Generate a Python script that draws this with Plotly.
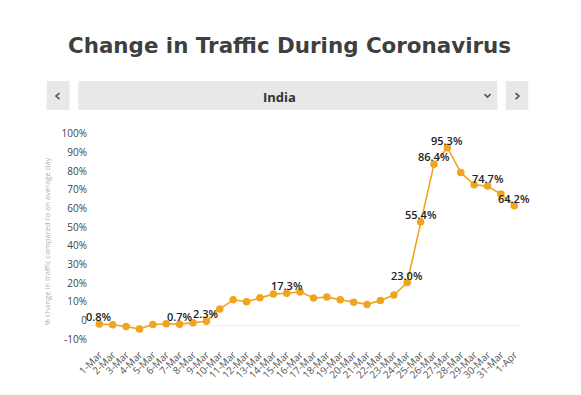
import plotly.graph_objects as go

# ---- data ----
dates = ["1-Mar", "2-Mar", "3-Mar", "4-Mar", "5-Mar", "6-Mar", "7-Mar", "8-Mar", "9-Mar",
         "10-Mar", "11-Mar", "12-Mar", "13-Mar", "14-Mar", "15-Mar", "16-Mar", "17-Mar",
         "18-Mar", "19-Mar", "20-Mar", "21-Mar", "22-Mar", "23-Mar", "24-Mar", "25-Mar",
         "26-Mar", "27-Mar", "28-Mar", "29-Mar", "30-Mar", "31-Mar", "1-Apr"]
change_pct = [0.8, 0.4, -0.6, -1.9, 0.5, 0.9, 0.7, 1.5, 2.3,
              8.8, 13.8, 12.7, 14.8, 16.8, 17.3, 18.0, 14.7,
              15.2, 13.8, 12.5, 11.3, 13.4, 16.3, 23.0, 55.4,
              86.4, 95.3, 82.0, 75.4, 74.7, 70.4, 64.2]
labeled_dates = ["1-Mar", "7-Mar", "9-Mar", "15-Mar", "24-Mar", "25-Mar",
                 "26-Mar", "27-Mar", "30-Mar", "1-Apr"]
y_tick_vals = [-10, 0, 10, 20, 30, 40, 50, 60, 70, 80, 90, 100]
y_tick_text = ["-10%", "0", "10%", "20%", "30%", "40%", "50%", "60%", "70%", "80%", "90%", "100%"]

title_text = "Change in Traffic During Coronavirus"
country = "India"
y_title = "% change in traffic compared to an average day"

# ---- layout geometry (screen pixels; page body has an 8px margin) ----
OFF = 8
W, H = 581 - OFF, 395 - OFF
L, R = 88, 522          # plot area left/right on screen
T, B = 136.6, 346.4     # plot area top/bottom on screen
pw, ph = R - L, B - T


def px(x):
    return (x - L) / pw


def py(y):
    return (B - y) / ph


ORANGE = "#F0A41F"

fig = go.Figure()
fig.add_trace(go.Scatter(
    x=dates, y=change_pct, mode="lines+markers",
    line=dict(color=ORANGE, width=1.6),
    marker=dict(color=ORANGE, size=7.5),
    cliponaxis=False, hoverinfo="x+y", showlegend=False,
))

annotations = []
for d, v in zip(dates, change_pct):
    if d in labeled_dates:
        annotations.append(dict(
            x=d, y=v, xref="x", yref="y", text=f"{v:.1f}%", showarrow=False,
            xanchor="center", yanchor="middle", yshift=7.5,
            font=dict(family="Open Sans", size=11, color="#222", weight=600)))

shapes = []
btn_color = "#E8E8E8"
for x0, x1 in [(46.7, 69.5), (78.3, 497.3), (505.7, 528.3)]:
    shapes.append(dict(type="rect", xref="paper", yref="paper",
                       x0=px(x0), x1=px(x1), y0=py(109.5), y1=py(80.5),
                       fillcolor=btn_color, line=dict(width=0), layer="below"))


def chevron(points):
    p = "M " + " L ".join(f"{px(a):.5f},{py(b):.5f}" for a, b in points)
    return dict(type="path", xref="paper", yref="paper", path=p,
                line=dict(color="#555", width=1.6))


shapes.append(chevron([(59.5, 92.5), (56, 95.5), (59.5, 98.5)]))
shapes.append(chevron([(515.5, 92.5), (519, 95.5), (515.5, 98.5)]))
shapes.append(chevron([(484.5, 93.5), (487.5, 96.5), (490.5, 93.5)]))

annotations += [
    dict(text=f"<b>{title_text}</b>", xref="paper", yref="paper",
         x=px(289), y=py(45), xanchor="center", yanchor="middle", showarrow=False,
         font=dict(family="DejaVu Sans", size=21.4, color="#3F3F3F")),
    dict(text=f"<b>{country}</b>", xref="paper", yref="paper",
         x=px(279), y=py(96), xanchor="center", yanchor="middle", showarrow=False,
         font=dict(family="Open Sans", size=13, color="#333")),
]

x0_pos = -(99.3 - L) / 13.387
fig.update_layout(
    width=W, height=H,
    margin=dict(l=L - OFF, r=W - (R - OFF), t=T - OFF, b=H - (B - OFF), pad=0),
    paper_bgcolor="white", plot_bgcolor="white",
    shapes=shapes, annotations=annotations,
    font=dict(family="Open Sans"),
    xaxis=dict(type="category", range=[x0_pos, 31.576], tickangle=-45,
               tickfont=dict(size=10, color="#555"), showgrid=False,
               showline=False, zeroline=False, ticks="", automargin=False),
    yaxis=dict(range=[-11, 101], tickvals=y_tick_vals, ticktext=y_tick_text,
               ticklabelshift=-5,
               tickfont=dict(size=10, color="#444"), showgrid=False,
               zeroline=True, zerolinecolor="#EEEEEE", zerolinewidth=1,
               showline=False, ticks="", automargin=False,
               title=dict(text=y_title, font=dict(size=7.6, color="#B0B0B0"), standoff=9)),
)

fig.write_html("out.html")
